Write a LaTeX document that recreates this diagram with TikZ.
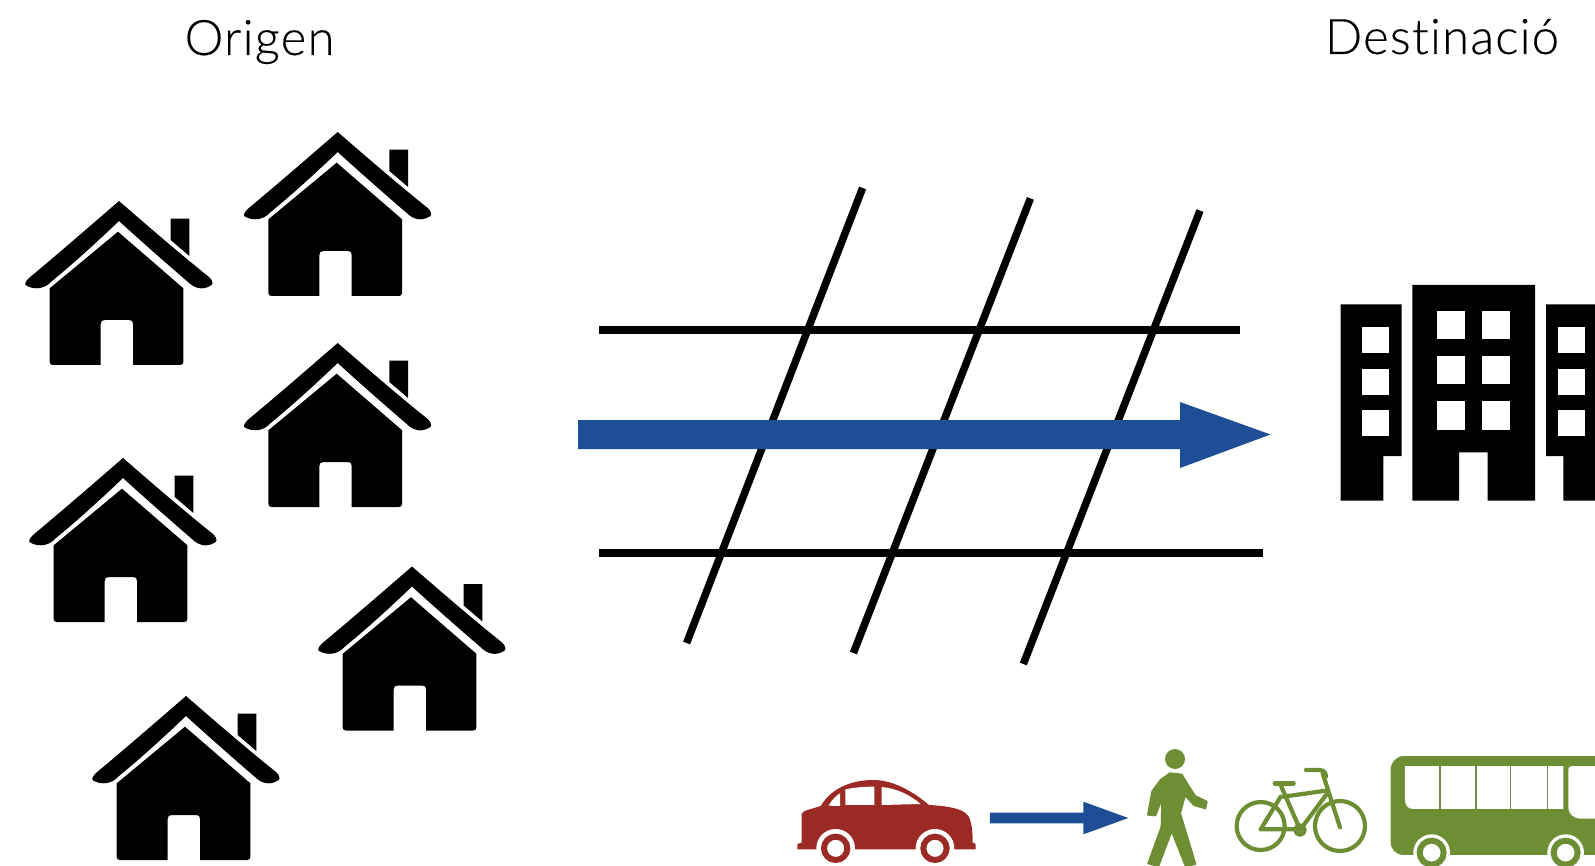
\documentclass[tikz,border=0pt]{standalone}
\usepackage{fontspec}
\setmainfont{Lato Light}[LetterSpace=2.5,Ligatures=NoCommon,FakeBold=0.25]
\definecolor{arrowblue}{HTML}{1D4E96}
\definecolor{carred}{HTML}{9C2A24}
\definecolor{olive}{HTML}{6E8E34}
\tikzset{
  housepic/.pic={
    % roof
    \fill[black] (0,0) .. controls (30,26) and (60,52) .. (90,76) .. controls (95,81) and (94,84) .. (91,85)
      .. controls (84,89) and (76,88) .. (69,81) .. controls (47,62) and (23,41) .. (0,20) .. controls (-22,41) and (-45,62) .. (-67,80)
      .. controls (-74,88) and (-84,89) .. (-92,85) .. controls (-95,84) and (-94,81) .. (-90,77) .. controls (-60,52) and (-30,26) .. (0,0) -- cycle;
    % chimney
    \fill[black] (51.7,17.7) -- (70.4,17.7) -- (70.4,55) -- (51.7,39) -- cycle;
    % body with door
    \fill[black,even odd rule] (-1,30.7) -- (64.4,87.3) -- (64.4,161) .. controls (64.4,163) and (63,164) .. (61,164)
      -- (14,164) -- (14,123) .. controls (14,120) and (13,119) .. (10,119) -- (-14,119)
      .. controls (-17,119) and (-18.3,120) .. (-18.3,123) -- (-18.3,164) -- (-66,164)
      .. controls (-68,164) and (-69.3,163) .. (-69.3,161) -- (-69.3,87.3) -- cycle;
  },
  gridline/.style={line width=7.5pt,black},
  bigarrow/.style={fill=arrowblue},
  winw/.style={fill=white},
  heading/.style={font=\fontsize{49}{52}\selectfont,text=black,inner sep=0pt,anchor=base},
  bikeline/.style={draw=olive,line width=4.2pt,line cap=round,line join=round},
}
\begin{document}
\begin{tikzpicture}[x=1pt,y=-1pt]
\useasboundingbox (0,0) rectangle (1595,866);
\clip (0,0) rectangle (1595,866);
\fill[white] (0,0) rectangle (1595,866);

\node[heading] (origen) at (259.5,55) {Origen};
\node[heading] (desti) at (1442,54) {Destinació};

% houses
\pic at (119,201) {housepic};
\pic at (337.7,132) {housepic};
\pic at (337.7,343) {housepic};
\pic at (123,458) {housepic};
\pic at (412,566.5) {housepic};
\pic at (186,696) {housepic};

% street grid
\coordinate (h1a) at (599,330); \coordinate (h1b) at (1240,330);
\coordinate (h2a) at (599,553); \coordinate (h2b) at (1263,553);
\coordinate (d1a) at (862.6,188); \coordinate (d1b) at (686.6,643);
\coordinate (d2a) at (1030.4,198.4); \coordinate (d2b) at (853.4,653);
\coordinate (d3a) at (1200,210.6); \coordinate (d3b) at (1023.3,664);
\draw[gridline] (h1a) -- (h1b);
\draw[gridline] (h2a) -- (h2b);
\draw[gridline] (d1a) -- (d1b);
\draw[gridline] (d2a) -- (d2b);
\draw[gridline] (d3a) -- (d3b);

% big arrow
\fill[bigarrow] (578,420) -- (1180,420) -- (1180,402) -- (1270.5,434.5) -- (1180,468) -- (1180,449) -- (578,449) -- cycle;

% buildings
\fill[black] (1340.7,304.3) -- (1401.7,304.3) -- (1401.7,456) -- (1383.3,456) -- (1383.3,500.7) -- (1340.7,500.7) -- cycle;
\fill[winw] (1362.3,327.3) rectangle (1389,353.3);
\fill[winw] (1362.3,368.7) rectangle (1389,395);
\fill[winw] (1362.3,410) rectangle (1389,436);
\fill[black] (1412.3,285) -- (1535,285) -- (1535,500.7) -- (1487.7,500.7) -- (1487.7,452.3) -- (1459,452.3) -- (1459,500.7) -- (1412.3,500.7) -- cycle;
\foreach \yy/\yz in {310.7/338.7,356/384.3,401.3/429.7}{
  \fill[winw] (1436.7,\yy) rectangle (1465,\yz);
  \fill[winw] (1482.3,\yy) rectangle (1510.3,\yz);
}
\fill[black] (1546,304.3) -- (1600,304.3) -- (1600,500.7) -- (1563.3,500.7) -- (1563.3,456) -- (1546,456) -- cycle;
\fill[winw] (1558.3,327.3) rectangle (1585,353.3);
\fill[winw] (1558.3,368.7) rectangle (1585,395);
\fill[winw] (1558.3,410) rectangle (1585,436);

% car + small arrow (zoom coordinates)
\begin{scope}[shift={(780,740)},x=0.3333pt,y=-0.3333pt]
  \fill[carred] (52,328) -- (52,312) -- (65,308) -- (65,222) .. controls (66,212) and (95,207) .. (122,198)
    .. controls (160,135) and (230,120) .. (280,120) .. controls (340,120) and (400,155) .. (447,195)
    .. controls (500,198) and (550,205) .. (565,228) .. controls (578,250) and (578,290) .. (578,308)
    -- (587,312) -- (587,328) -- cycle;
  \fill[white] (167,325) circle[radius=58];
  \fill[white] (465,325) circle[radius=58];
  \draw[carred,line width=6pt] (167,325) circle[radius=35];
  \draw[carred,line width=6pt] (465,325) circle[radius=35];
  \fill[white] (196,148) .. controls (225,142) and (255,140) .. (283,140) -- (283,195) -- (196,195) -- cycle;
  \fill[white] (305,141) .. controls (350,145) and (390,165) .. (422,192) -- (305,195) -- cycle;
  \fill[white] (146,197) .. controls (155,180) and (167,168) .. (180,160) -- (180,198) -- cycle;
  \fill[arrowblue] (630,218) -- (910,218) -- (910,185) -- (1045,234) -- (910,283) -- (910,250) -- (630,250) -- cycle;
\end{scope}

% pedestrian
\begin{scope}[shift={(1120,740)},x=0.3333pt,y=-0.3333pt]
  \fill[olive] (165,57) ellipse[x radius=30,y radius=30];
  \filldraw[olive,line width=2pt,line join=round] (150,100) -- (185,104) -- (207,140) -- (225,168) -- (260,185) -- (256,205) -- (222,195) -- (195,165)
    -- (180,220) -- (226,372) -- (197,378) -- (155,272) -- (115,378) -- (85,370) -- (125,260) -- (127,172)
    -- (106,226) -- (84,224) -- (97,154) -- (122,120) -- cycle;
\end{scope}

% bicycle and bus
\begin{scope}[shift={(1220,740)},x=0.3333pt,y=-0.3333pt]
  \draw[bikeline] (122,258) circle[radius=72];
  \draw[bikeline] (360,258) circle[radius=75];
  \draw[bikeline] (122,268) -- (240,268) -- (182,135) (182,170) -- (122,268);
  \draw[bikeline] (190,170) -- (318,152) (240,270) -- (318,165);
  \draw[bikeline] (308,100) -- (360,262);
  \draw[bikeline] (258,90) -- (298,90) .. controls (312,90) and (318,100) .. (318,110);
  \draw[bikeline,line width=5pt] (165,130) -- (220,130);
  \draw[bikeline] (240,270) circle[radius=14];
  % bus
  \fill[olive] (1130,48) -- (552,48) .. controls (530,48) and (512,66) .. (512,90) -- (512,305)
    .. controls (512,330) and (530,345) .. (552,345) -- (1130,345) -- cycle;
  \fill[white] (555,78) -- (1030,78) -- (1030,207) -- (580,207) .. controls (565,207) and (555,197) .. (555,180) -- cycle;
  \draw[olive!70!gray,line width=1.3pt] (660,78) -- (660,207) (768,78) -- (768,207) (872,78) -- (872,207) (982,78) -- (982,207);
  \fill[white] (1045,88) .. controls (1045,82) and (1050,78) .. (1056,78) -- (1130,78) -- (1130,236) -- (1085,236)
    .. controls (1060,236) and (1045,222) .. (1045,200) -- cycle;
  \fill[white] (635,338) circle[radius=55];
  \fill[white] (1037,338) circle[radius=55];
  \draw[olive,line width=6pt] (635,338) circle[radius=36];
  \draw[olive,line width=6pt] (1037,338) circle[radius=36];
\end{scope}
\end{tikzpicture}
\end{document}
